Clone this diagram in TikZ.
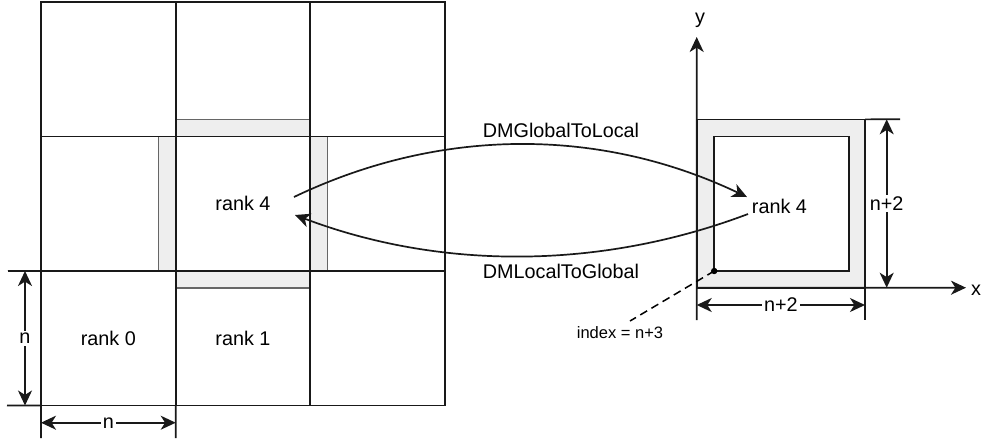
\documentclass[tikz,border=0pt]{standalone}
\usepackage{fontspec}
\setmainfont{Liberation Sans}
\usetikzlibrary{arrows.meta}
\definecolor{ghost}{RGB}{238,238,238}
\tikzset{
  px/.style={x=0.5pt,y=-0.5pt},
  line/.style={line width=0.85pt,draw=black!90},
  cell/.style={line, rectangle, minimum size=67.3pt, inner sep=0pt, outer sep=0pt, font=\fontsize{9.9}{12}\selectfont},
  strip/.style={fill=ghost, draw=black!60, line width=0.7pt},
  tip/.style={-{Stealth[length=7.5pt,width=7pt,inset=2.2pt]}},
  dtip/.style={{Stealth[length=7.5pt,width=7pt,inset=2.2pt]}-{Stealth[length=7.5pt,width=7pt,inset=2.2pt]}},
  lbl/.style={font=\fontsize{9.9}{12}\selectfont, inner sep=1pt},
  dimlbl/.style={lbl, fill=white},
  smalllbl/.style={font=\fontsize{8.25}{10}\selectfont, inner sep=1pt}
}
\begin{document}
\begin{tikzpicture}[px]
\useasboundingbox[fill=white] (0,0) rectangle (982,441);
% ghost strips around rank 4
\draw[strip] (175.7,119.3) rectangle (310.3,136.5);
\draw[strip] (175.7,271) rectangle (310.3,288);
\draw[strip] (158.3,136.5) rectangle (175.7,271);
\draw[strip] (310.3,136.5) rectangle (327.3,271);
% grid cells
\node[cell] (c00) at (108.35,69.25) {};
\node[cell] (c01) at (243,69.25) {};
\node[cell] (c02) at (377.65,69.25) {};
\node[cell] (c10) at (108.35,203.75) {};
\node[cell] (c11) at (243,203.75) {rank 4};
\node[cell] (c12) at (377.65,203.75) {};
\node[cell] (c20) at (108.35,338.25) {rank 0};
\node[cell] (c21) at (243,338.25) {rank 1};
\node[cell] (c22) at (377.65,338.25) {};
% extension lines left grid
\coordinate (eh1) at (8,271);
\coordinate (eh2) at (7,405.5);
\coordinate (ev1) at (41,438);
\coordinate (ev2) at (175.7,438);
\draw[line] (c20.north west) -- (eh1);
\draw[line] (c20.south west) -- (eh2);
\draw[line] (c20.south west) -- (ev1);
\draw[line] (c20.south east) -- (ev2);
% left dimensions
\coordinate (dv1) at (25,271);
\coordinate (dv2) at (25,405.5);
\draw[line,dtip] (dv1) -- node[dimlbl] (dimn1) {n} (dv2);
\coordinate (dh1) at (41,422.7);
\coordinate (dh2) at (175.7,422.7);
\draw[line,dtip] (dh1) -- node[dimlbl] (dimn2) {n} (dh2);
% right box
\node[line, fill=ghost, rectangle, minimum size=84.15pt, inner sep=0pt, outer sep=0pt] (rbo) at (780.85,203.5) {};
\node[cell, fill=white, minimum size=67.3pt] (rbi) at (781.5,203.7) {};
\node[lbl] (r4r) at (779.5,206) {rank 4};
% axes
\coordinate (ytip) at (696.7,37);
\coordinate (xtip) at (966,287.7);
\draw[line,tip] (rbo.south west) -- (ytip);
\draw[line,tip] (rbo.south west) -- (xtip);
\node[lbl] (ylab) at (700,20) {y};
\node[lbl] (xlab) at (976,290) {x};
% right dimensions
\coordinate (ext1) at (900,119.3);
\draw[line] (rbo.north east) -- (ext1);
\coordinate (ext2) at (696.7,320);
\coordinate (ext3) at (865,320);
\draw[line] (rbo.south west) -- (ext2);
\draw[line] (rbo.south east) -- (ext3);
\coordinate (rv1) at (886.7,119.3);
\coordinate (rv2) at (886.7,287.7);
\draw[line,dtip] (rv1) -- node[dimlbl] (dimr1) {n+2} (rv2);
\coordinate (rh1) at (696.7,305);
\coordinate (rh2) at (865,305);
\draw[line,dtip] (rh1) -- node[dimlbl] (dimr2) {n+2} (rh2);
% index marker
\fill (rbi.south west) circle (1.6pt);
\node[smalllbl] (idx) at (620,333) {index = n+3};
\coordinate (idxend) at (630,321);
\draw[line width=0.75pt, dash pattern=on 4pt off 2.5pt] (rbi.south west) -- (idxend);
% transfer arrows
\coordinate (g2lS) at (294,197);
\coordinate (g2lE) at (747,197);
\coordinate (l2gS) at (748,214);
\coordinate (l2gE) at (295,215);
\draw[line,tip] (g2lS) .. controls (440,127) and (600,127) .. (g2lE);
\draw[line,tip] (l2gS) .. controls (600,270) and (440,270) .. (l2gE);
\node[lbl] (g2l) at (561,130) {DMGlobalToLocal};
\node[lbl] (l2g) at (561,271.7) {DMLocalToGlobal};
\end{tikzpicture}
\end{document}
